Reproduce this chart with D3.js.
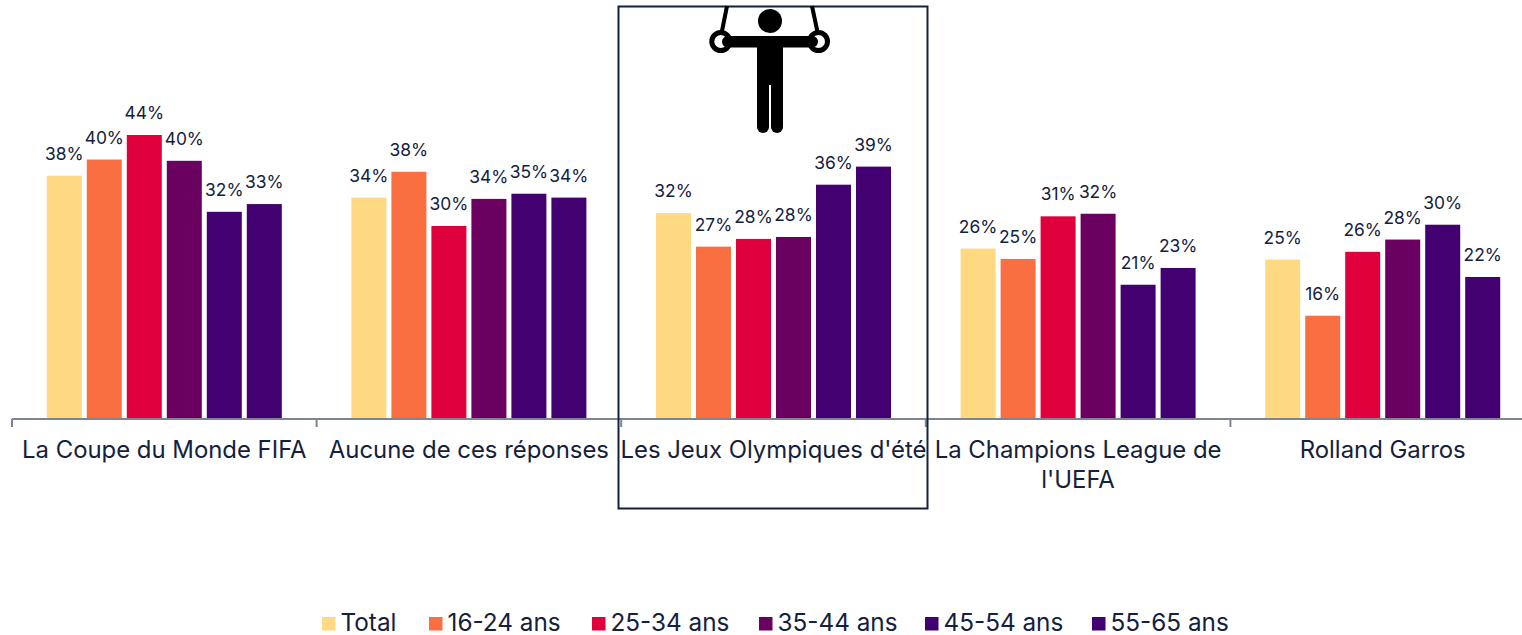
<!DOCTYPE html>
<html><head><meta charset="utf-8">
<script src="https://cdn.jsdelivr.net/npm/d3@7"></script>
<style>html,body{margin:0;background:#fff}svg{display:block}text{font-family:Inter,sans-serif;fill:#14213d}</style>
</head><body><svg id="c" width="1522" height="635"></svg>
<script>
const categories = ["La Coupe du Monde FIFA","Aucune de ces réponses","Les Jeux Olympiques d'été","La Champions League de l'UEFA","Rolland Garros"];
const seriesNames = ["Total","16-24 ans","25-34 ans","35-44 ans","45-54 ans","55-65 ans"];
const total = [37.7,34.3,31.9,26.4,24.7];
const age1624 = [40.2,38.3,26.7,24.8,16.0];
const age2534 = [44.0,29.9,27.9,31.4,25.9];
const age3544 = [40.0,34.1,28.2,31.8,27.8];
const age4554 = [32.1,34.9,36.3,20.8,30.1];
const age5565 = [33.3,34.3,39.1,23.4,22.0];
const allSeries = [total,age1624,age2534,age3544,age4554,age5565];
const colors = ["#FFD982","#F96F42","#E0003C","#6A0060","#430070","#430070"];
const legendLeft = [322,429,592,759,925,1092];

const svg = d3.select("#c");
const baseY = 419, ink = "#14213d";
const x0 = d3.scaleBand().domain(categories).range([12,1535]);
const x1 = d3.scaleBand().domain(seriesNames).range([0,235]).paddingInner(0.125);
const y = d3.scaleLinear().domain([0,44]).range([baseY,135]);

const groups = svg.selectAll("g.grp").data(categories).join("g").attr("class","grp")
  .attr("transform",c=>`translate(${x0(c)+x0.bandwidth()/2-117.5},0)`);
groups.each(function(c,i){
  const g = d3.select(this);
  seriesNames.forEach((s,k)=>{
    const v = allSeries[k][i];
    g.append("rect").attr("x",x1(s)).attr("width",x1.bandwidth())
      .attr("y",y(v)).attr("height",baseY-y(v)).attr("fill",colors[k]);
    g.append("text").attr("x",x1(s)+x1.bandwidth()/2).attr("y",y(v)-16)
      .attr("text-anchor","middle").attr("font-size",17.4).text(Math.round(v)+"%");
  });
});

// axis
const ax = svg.append("g");
ax.append("line").attr("x1",12).attr("x2",1522).attr("y1",419).attr("y2",419).attr("stroke","#7f8590").attr("stroke-width",2);
d3.range(0,6).forEach(i=>{
  const tx = 12+i*x0.bandwidth();
  ax.append("line").attr("x1",tx).attr("x2",tx).attr("y1",419).attr("y2",427).attr("stroke","#7f8590").attr("stroke-width",2);
});
categories.forEach(c=>{
  const cx = x0(c)+x0.bandwidth()/2;
  const words = c.split(" ");
  const lines = c.includes("UEFA") ? [words.slice(0,-1).join(" "),words[words.length-1]] : [c];
  lines.forEach((l,j)=>ax.append("text").attr("x",cx).attr("y",458+j*29.5)
    .attr("text-anchor","middle").attr("font-size",23.9).text(l));
});

// highlight frame
svg.append("rect").attr("x",618.5).attr("y",6.5).attr("width",309).attr("height",502)
  .attr("fill","none").attr("stroke",ink).attr("stroke-width",2);

// gymnast pictogram
const p = svg.append("g").attr("fill","#000").attr("stroke","none");
p.append("circle").attr("cx",770).attr("cy",21).attr("r",12);
p.append("rect").attr("x",722).attr("y",36).attr("width",96).attr("height",11.5).attr("rx",5.7);
p.append("rect").attr("x",757).attr("y",40).attr("width",26).attr("height",45);
p.append("rect").attr("x",757).attr("y",70).attr("width",12).attr("height",63).attr("rx",6);
p.append("rect").attr("x",771).attr("y",70).attr("width",12).attr("height",63).attr("rx",6);
[[720.8,727],[818.5,812]].forEach(([a,b])=>{
  svg.append("circle").attr("cx",a).attr("cy",41.5).attr("r",9).attr("fill","none").attr("stroke","#000").attr("stroke-width",5);
  svg.append("line").attr("x1",b).attr("y1",6).attr("x2",a+(a<770?1:-1)).attr("y2",32).attr("stroke","#000").attr("stroke-width",4);
});

// legend
seriesNames.forEach((s,k)=>{
  svg.append("rect").attr("x",legendLeft[k]).attr("y",617).attr("width",13.5).attr("height",13.5).attr("fill",colors[k]);
  svg.append("text").attr("x",legendLeft[k]+18.5).attr("y",630.5).attr("font-size",24.3).text(s);
});
</script></body></html>
